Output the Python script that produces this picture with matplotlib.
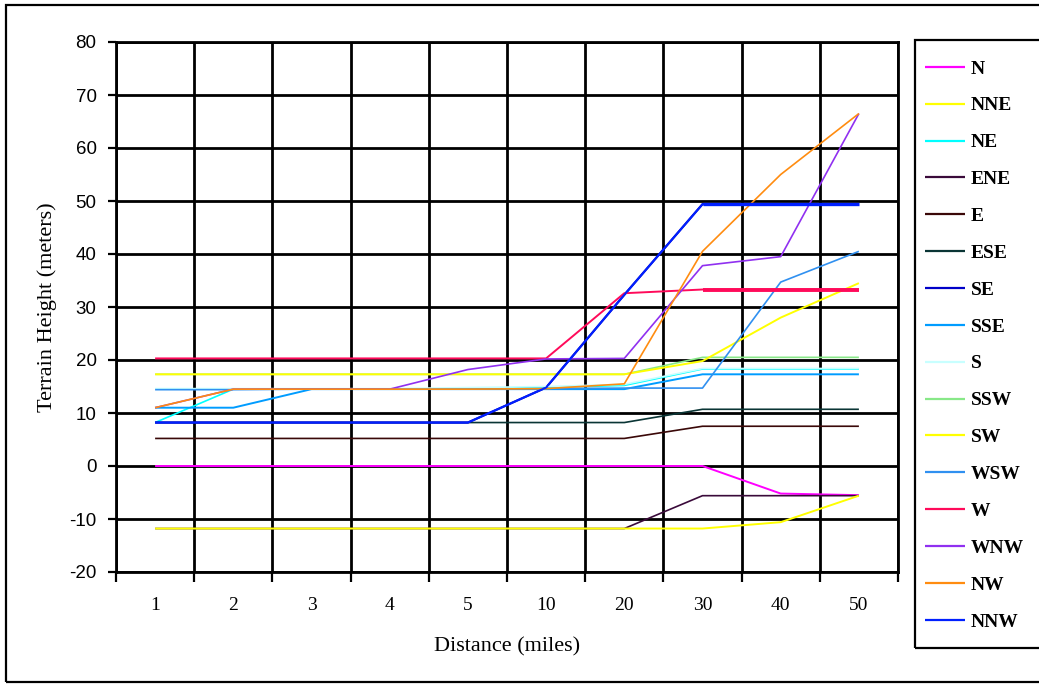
#terrain height profiles by compass direction

import matplotlib
matplotlib.use("Agg")
import matplotlib.pyplot as plt
from matplotlib.patches import Rectangle

plt.rcParams["axes.unicode_minus"] = False

distances = ["1", "2", "3", "4", "5", "10", "20", "30", "40", "50"]

directions = ["N", "NNE", "NE", "ENE", "E", "ESE", "SE", "SSE",
              "S", "SSW", "SW", "WSW", "W", "WNW", "NW", "NNW"]

N   = [0, 0, 0, 0, 0, 0, 0, 0, -5.2, -5.5]
NNE = [17.3, 17.3, 17.3, 17.3, 17.3, 17.3, 17.3, 19.8, 28, 34.5]
NE  = [8.2, 14.5, 14.5, 14.5, 14.6, 14.8, 15.2, 18.3, 18.3, 18.3]
ENE = [-11.8, -11.8, -11.8, -11.8, -11.8, -11.8, -11.8, -5.6, -5.6, -5.6]
E   = [5.2, 5.2, 5.2, 5.2, 5.2, 5.2, 5.2, 7.5, 7.5, 7.5]
ESE = [8.2, 8.2, 8.2, 8.2, 8.2, 8.2, 8.2, 10.7, 10.7, 10.7]
SE  = [8.2, 8.2, 8.2, 8.2, 8.2, 14.8, 32.3, 49.4, 49.4, 49.4]
SSE = [11.0, 11.0, 14.5, 14.5, 14.5, 14.5, 14.5, 17.3, 17.3, 17.3]
S   = [14.6, 14.6, 14.6, 14.6, 14.8, 15.0, 15.4, 18.4, 18.4, 18.4]
SSW = [17.3, 17.3, 17.3, 17.3, 17.3, 17.3, 17.3, 20.5, 20.5, 20.5]
SW  = [-11.8, -11.8, -11.8, -11.8, -11.8, -11.8, -11.8, -11.8, -10.6, -5.6]
WSW = [14.4, 14.4, 14.5, 14.5, 14.5, 14.6, 14.7, 14.7, 34.7, 40.5]
W   = [20.3, 20.3, 20.3, 20.3, 20.3, 20.3, 32.6, 33.3, 33.3, 33.3]
WNW = [11.0, 14.5, 14.5, 14.5, 18.2, 20.2, 20.3, 37.8, 39.5, 66.5]
NW  = [11.0, 14.5, 14.5, 14.5, 14.5, 14.6, 15.5, 40.5, 55.0, 66.5]
NNW = [8.2, 8.2, 8.2, 8.2, 8.2, 14.8, 32.3, 49.4, 49.4, 49.4]

values = [N, NNE, NE, ENE, E, ESE, SE, SSE, S, SSW, SW, WSW, W, WNW, NW, NNW]
colors = ["#ff00ff", "#ffff00", "#00ffff", "#3a0a3a", "#3a0808", "#0a3535",
          "#0000c8", "#009cff", "#c8ffff", "#88e888", "#ffff00", "#3090f0",
          "#ff0a5a", "#9030f0", "#ff8c10", "#0020ff"]
widths = [1.4, 1.4, 1.2, 1.2, 1.2, 1.2, 1.6, 1.4, 1.2, 1.2, 1.4, 1.2,
          1.4, 1.2, 1.2, 1.4]

fig = plt.figure(figsize=(10.39, 6.84), dpi=100)
ax = fig.add_axes([116/1039, 1 - 572/684, 782/1039, 530/684])

x = list(range(len(distances)))
for i, (name, vals, c, lw) in enumerate(zip(directions, values, colors, widths)):
    z = 2.05 if name == "SSW" else 2.1 + i * 0.01
    ax.plot(x, vals, color=c, lw=lw, label=name, solid_capstyle="butt", zorder=z)

# thicker lines on the far side
ax.plot(x[7:], W[7:], color="#ff0a5a", lw=2.8, solid_capstyle="butt", zorder=2.3)
ax.plot(x[7:], NNW[7:], color="#0020ff", lw=2.4, solid_capstyle="butt", zorder=2.3)

ax.set_xlim(-0.5, 9.5)
ax.set_ylim(-20, 80)
ax.set_yticks(range(-20, 81, 10))
ax.set_xticks([i + 0.5 for i in range(-1, 10)])
ax.set_xticklabels([])
ax.set_xticks(x, minor=True)
ax.set_xticklabels(distances, minor=True, family="Liberation Serif", fontsize=14)
ax.tick_params(axis="x", which="major", direction="out", length=7, width=1.6, color="black")
ax.tick_params(axis="x", which="minor", length=0, pad=18)
ax.tick_params(axis="y", direction="out", length=6, width=1.6, pad=8, labelsize=13.5)
for lab in ax.get_yticklabels():
    lab.set_family("Liberation Sans")

ax.grid(True, which="major", color="black", lw=2.0)
ax.set_axisbelow(True)
for sp in ax.spines.values():
    sp.set_linewidth(2.0)

ax.set_ylabel("Terrain Height (meters)", family="Liberation Serif", fontsize=16)
ax.yaxis.set_label_coords((57 - 116) / 782, (572 - 307) / 530)
ax.set_xlabel("Distance (miles)", family="Liberation Serif", fontsize=16)
ax.xaxis.set_label_coords(0.5, (572 - 637) / 530)

leg = fig.legend(loc="upper left", bbox_to_anchor=(925/1039, 1 - 60/684),
                 frameon=False, borderaxespad=0, borderpad=0,
                 handlelength=2.05, handletextpad=0.3, labelspacing=0.99,
                 prop={"family": "Liberation Serif", "weight": "bold", "size": 14})
for line in leg.get_lines():
    line.set_linewidth(1.6)

# legend frame, running off the right edge like the original
fig.patches.append(Rectangle((915/1039, 1 - 648/684), 0.3, 608/684,
                             transform=fig.transFigure, fill=False,
                             edgecolor="black", lw=1.6))
# outer chart border
fig.patches.append(Rectangle((6/1039, 2/684), 1.2, (684 - 7)/684,
                             transform=fig.transFigure, fill=False,
                             edgecolor="black", lw=1.6))

fig.savefig("out.png", dpi=100)
